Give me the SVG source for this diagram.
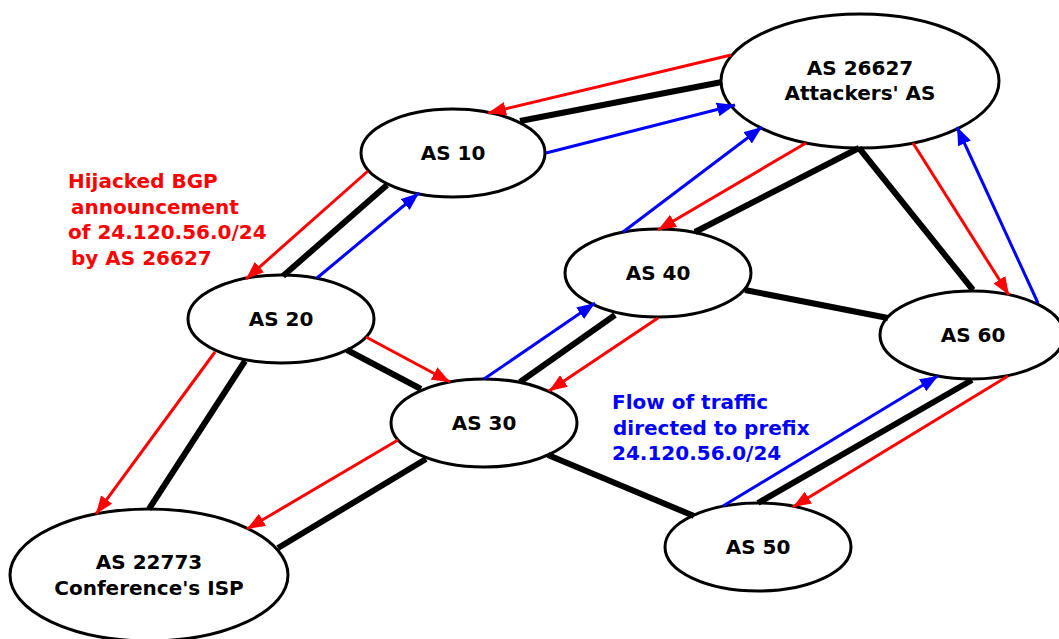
<svg xmlns="http://www.w3.org/2000/svg" width="1059" height="639" viewBox="0 0 1059 639">
  <style>
    .node ellipse { fill: #ffffff; stroke: #000000; stroke-width: 3; }
    .node text { font-family: "DejaVu Sans", "Liberation Sans", sans-serif; font-weight: bold; font-size: 20px; fill: #000000; text-anchor: middle; }
    .link { stroke: #000000; stroke-width: 6; fill: none; }
    .ann { stroke: #ff0000; stroke-width: 3; fill: none; marker-end: url(#redHead); }
    .flow { stroke: #0000ff; stroke-width: 3; fill: none; marker-end: url(#blueHead); }
    .label { font-family: "DejaVu Sans", "Liberation Sans", sans-serif; font-weight: bold; font-size: 20px; }
  </style>
  <defs>
    <marker id="redHead" markerUnits="userSpaceOnUse" markerWidth="18" markerHeight="14" refX="18" refY="7" orient="auto" viewBox="0 0 18 14">
      <path d="M0,0 L18,7 L0,14 z" fill="#ff0000"/>
    </marker>
    <marker id="blueHead" markerUnits="userSpaceOnUse" markerWidth="18" markerHeight="14" refX="18" refY="7" orient="auto" viewBox="0 0 18 14">
      <path d="M0,0 L18,7 L0,14 z" fill="#0000ff"/>
    </marker>
  </defs>

  <rect width="1059" height="639" fill="#ffffff"/>

  <!-- AS nodes -->
  <g id="as26627" class="node">
    <ellipse cx="860" cy="81" rx="139" ry="67"/>
    <text x="860" y="75">AS 26627</text>
    <text x="860" y="100">Attackers' AS</text>
  </g>
  <g id="as10" class="node">
    <ellipse cx="453" cy="153" rx="92" ry="44"/>
    <text x="453" y="160">AS 10</text>
  </g>
  <g id="as20" class="node">
    <ellipse cx="281" cy="319" rx="93" ry="44"/>
    <text x="281" y="326">AS 20</text>
  </g>
  <g id="as40" class="node">
    <ellipse cx="658" cy="273" rx="93" ry="44"/>
    <text x="658" y="280">AS 40</text>
  </g>
  <g id="as60" class="node">
    <ellipse cx="972" cy="335" rx="92" ry="44"/>
    <text x="973" y="342">AS 60</text>
  </g>
  <g id="as30" class="node">
    <ellipse cx="484" cy="423" rx="93" ry="44"/>
    <text x="484" y="430">AS 30</text>
  </g>
  <g id="as50" class="node">
    <ellipse cx="758" cy="547" rx="93" ry="44"/>
    <text x="758" y="554">AS 50</text>
  </g>
  <g id="as22773" class="node">
    <ellipse cx="149" cy="575" rx="139" ry="66"/>
    <text x="149" y="569">AS 22773</text>
    <text x="149" y="595">Conference's ISP</text>
  </g>

  <!-- peering links, hijacked announcements and traffic flow -->
  <g id="connectors">
    <line class="link" x1="520" y1="121" x2="722" y2="82"/>
    <line class="link" x1="387" y1="185" x2="283" y2="276"/>
    <line class="link" x1="347" y1="350" x2="421" y2="389"/>
    <line class="link" x1="245" y1="361" x2="149" y2="509"/>
    <line class="link" x1="426" y1="459" x2="278" y2="548"/>
    <line class="link" x1="520" y1="382" x2="615" y2="315"/>
    <line class="link" x1="548" y1="455" x2="694" y2="516"/>
    <line class="link" x1="695" y1="232" x2="859" y2="148"/>
    <line class="link" x1="859" y1="148" x2="973" y2="290"/>
    <line class="link" x1="745" y1="290" x2="888" y2="318"/>
    <line class="link" x1="758" y1="503" x2="972" y2="380"/>

    <line class="ann" x1="731" y1="55" x2="488" y2="113"/>
    <line class="ann" x1="368" y1="171" x2="246" y2="279"/>
    <line class="ann" x1="366" y1="337" x2="450" y2="382"/>
    <line class="ann" x1="215" y1="352" x2="96" y2="514"/>
    <line class="ann" x1="398" y1="440" x2="247" y2="529"/>
    <line class="ann" x1="806" y1="143" x2="658" y2="230"/>
    <line class="ann" x1="658" y1="318" x2="549" y2="391"/>
    <line class="ann" x1="913" y1="143" x2="1009" y2="295"/>
    <line class="ann" x1="1008" y1="376" x2="793" y2="507"/>

    <line class="flow" x1="546" y1="153" x2="735" y2="105"/>
    <line class="flow" x1="317" y1="278" x2="419" y2="193"/>
    <line class="flow" x1="484" y1="379" x2="595" y2="303"/>
    <line class="flow" x1="623" y1="232" x2="762" y2="127"/>
    <line class="flow" x1="1038" y1="303" x2="957" y2="127"/>
    <line class="flow" x1="723" y1="506" x2="938" y2="376"/>
  </g>

  <!-- annotations -->
  <g id="hijack-note" class="label" fill="#ff0000">
    <text x="68" y="188">Hijacked BGP</text>
    <text x="71" y="214">announcement</text>
    <text x="68" y="239">of 24.120.56.0/24</text>
    <text x="71" y="265">by AS 26627</text>
  </g>
  <g id="traffic-note" class="label" fill="#0000ff">
    <text x="612" y="409">Flow of traffic</text>
    <text x="613" y="435">directed to prefix</text>
    <text x="612" y="460">24.120.56.0/24</text>
  </g>
</svg>
